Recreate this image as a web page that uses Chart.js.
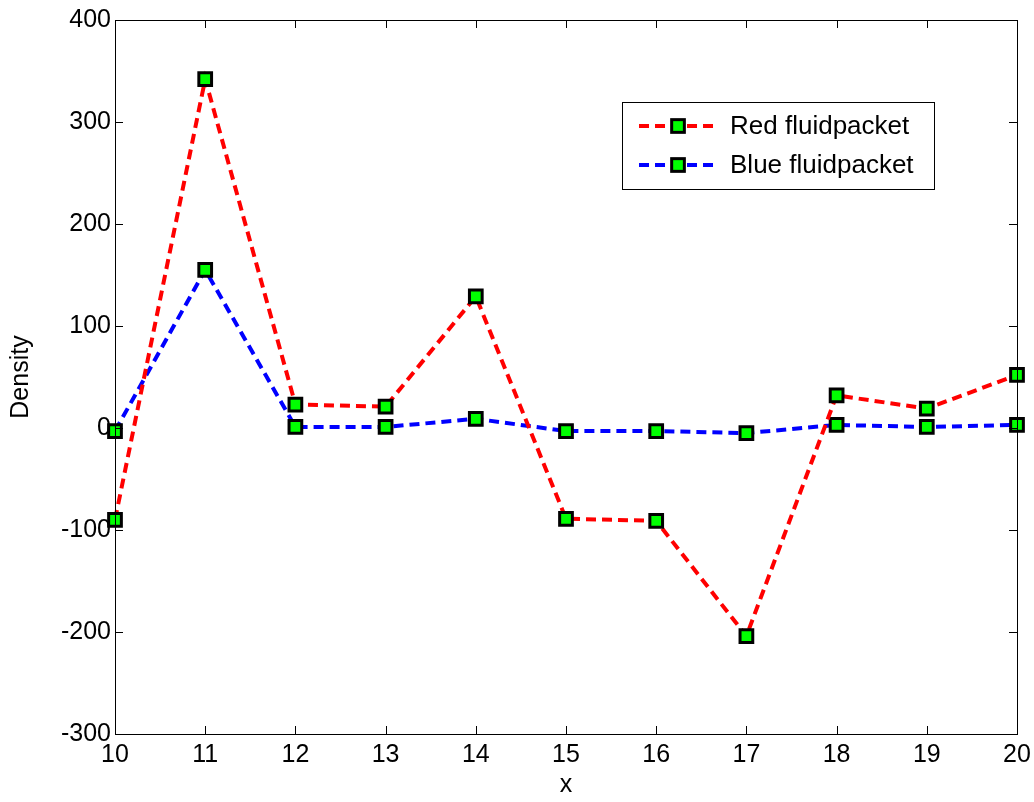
<!DOCTYPE html>
<html>
<head>
<meta charset="utf-8">
<script src="https://cdn.jsdelivr.net/npm/chart.js@4.4.1/dist/chart.umd.min.js"></script>
<style>
  html, body { margin: 0; padding: 0; background: #fff; }
  #wrap { width: 1034px; height: 802px; }
</style>
</head>
<body>
<div id="wrap"><canvas id="c" width="1034" height="802"></canvas></div>
<script>
const xs = [10, 11, 12, 13, 14, 15, 16, 17, 18, 19, 20];
const redValues = [-90, 342, 23, 21, 129, -89, -91, -204, 32, 19, 52];
const blueValues = [-3, 155, 1, 1, 9, -3, -3, -5, 3, 1, 3];
const seriesNames = ['Red fluidpacket', 'Blue fluidpacket'];
const xTicks = [10, 11, 12, 13, 14, 15, 16, 17, 18, 19, 20];
const yTicks = [-300, -200, -100, 0, 100, 200, 300, 400];

const FONT = '"Liberation Sans", Arial, sans-serif';

function pts(vals) {
  return xs.map((x, i) => ({ x, y: vals[i] }));
}

function lineSet(label, vals, color) {
  return {
    label,
    data: pts(vals),
    borderColor: color,
    borderWidth: 4,
    borderDash: [10, 6],
    pointStyle: 'rect',
    pointRadius: 9,
    pointHoverRadius: 9,
    pointBackgroundColor: '#00ff00',
    pointBorderColor: '#000',
    pointBorderWidth: 3,
    tension: 0,
    clip: false
  };
}

// MATLAB style box with inward ticks, plus the legend inside the axes
const boxPlugin = {
  id: 'box',
  afterDatasetsDraw(chart) {
    const { ctx, chartArea: a, scales } = chart;
    ctx.save();
    ctx.strokeStyle = '#000';
    ctx.lineWidth = 1;
    ctx.strokeRect(a.left + 0.5, a.top + 0.5, a.right - a.left, a.bottom - a.top);
    const tl = 8;
    ctx.beginPath();
    xTicks.forEach(v => {
      const px = Math.round(scales.x.getPixelForValue(v)) + 0.5;
      ctx.moveTo(px, a.bottom); ctx.lineTo(px, a.bottom - tl);
      ctx.moveTo(px, a.top); ctx.lineTo(px, a.top + tl);
    });
    yTicks.forEach(v => {
      const py = Math.round(scales.y.getPixelForValue(v)) + 0.5;
      ctx.moveTo(a.left, py); ctx.lineTo(a.left + tl, py);
      ctx.moveTo(a.right, py); ctx.lineTo(a.right - tl, py);
    });
    ctx.stroke();

    // legend
    const w = a.right - a.left;
    const lx = a.left + w * 0.5621, ly = a.top + 82;
    const lw = 312, lh = 87;
    ctx.fillStyle = '#fff';
    ctx.fillRect(lx, ly, lw, lh);
    ctx.strokeRect(Math.round(lx) + 0.5, Math.round(ly) + 0.5, lw, lh);
    chart.data.datasets.forEach((ds, i) => {
      const y = ly + 24 + i * 39;
      ctx.save();
      ctx.strokeStyle = ds.borderColor;
      ctx.lineWidth = 4;
      ctx.setLineDash([10, 6]);
      ctx.beginPath();
      ctx.moveTo(lx + 17, y); ctx.lineTo(lx + 95, y);
      ctx.stroke();
      ctx.setLineDash([]);
      ctx.fillStyle = '#00ff00';
      ctx.strokeStyle = '#000';
      ctx.lineWidth = 3;
      const s = 12.7;
      ctx.fillRect(lx + 56 - s / 2, y - s / 2, s, s);
      ctx.strokeRect(lx + 56 - s / 2, y - s / 2, s, s);
      ctx.restore();
      ctx.fillStyle = '#000';
      ctx.font = '26px ' + FONT;
      ctx.textBaseline = 'middle';
      ctx.fillText(ds.label, lx + 108, y + 1);
    });
    ctx.restore();
  }
};

new Chart(document.getElementById('c'), {
  type: 'line',
  data: {
    datasets: [
      lineSet(seriesNames[0], redValues, '#ff0000'),
      lineSet(seriesNames[1], blueValues, '#0000ff')
    ]
  },
  options: {
    responsive: false,
    animation: false,
    events: [],
    layout: { padding: { top: 20, right: 17, left: 0, bottom: 0 } },
    plugins: { legend: { display: false }, tooltip: { enabled: false } },
    scales: {
      x: {
        type: 'linear',
        min: 10, max: 20,
        grid: { display: false, drawTicks: false },
        border: { display: false },
        afterFit: s => { s.height = 68; s.paddingLeft = 0; s.paddingRight = 0; },
        afterBuildTicks: s => { s.ticks = xTicks.map(v => ({ value: v })); },
        ticks: { color: '#000', padding: 6, maxRotation: 0, font: { family: FONT, size: 25 } },
        title: { display: true, text: 'x', color: '#000', padding: { top: 0, bottom: 2 }, font: { family: FONT, size: 25 } }
      },
      y: {
        min: -300, max: 400,
        grid: { display: false, drawTicks: false },
        border: { display: false },
        afterFit: s => { s.width = 115; s.paddingTop = 0; s.paddingBottom = 0; },
        afterBuildTicks: s => { s.ticks = yTicks.map(v => ({ value: v })); },
        ticks: { color: '#000', padding: 4, font: { family: FONT, size: 25 } },
        title: { display: true, text: 'Density', color: '#000', padding: 6, font: { family: FONT, size: 25 } }
      }
    }
  },
  plugins: [boxPlugin]
});
</script>
</body>
</html>
